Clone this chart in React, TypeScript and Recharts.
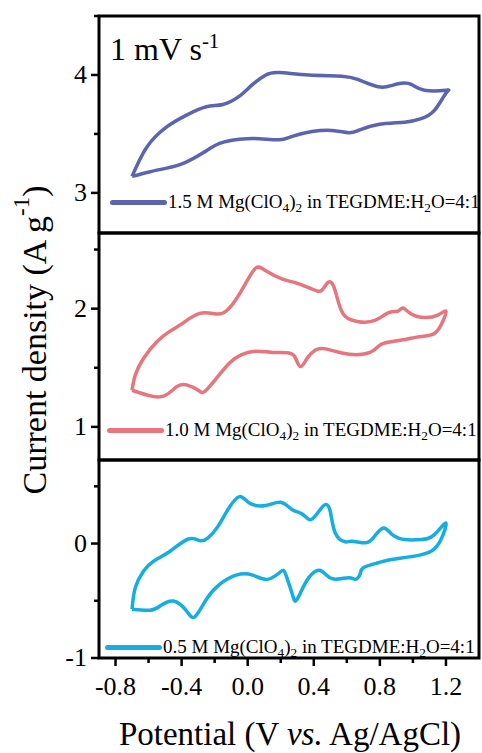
import { LineChart, Line, XAxis, YAxis, ReferenceArea, Legend, Label } from "recharts";

// 1.5 M loop (potential V, current A/g)
const pot15 = [
	-0.7, -0.61, -0.49, -0.37, -0.25, -0.15, -0.05, 0.03, 0.11, 0.19, 0.37, 0.57, 0.67, 0.79, 0.87, 0.93, 0.99, 1.07, 1.2,
	1.2, 1.13, 1.05, 0.95, 0.79, 0.67, 0.61, 0.51, 0.39, 0.27, 0.19, 0.07, -0.05, -0.17, -0.27, -0.39, -0.49, -0.59, -0.7,
];
const cur15 = [
	3.14, 3.39, 3.56, 3.66, 3.73, 3.75, 3.82, 3.92, 4.0, 4.02, 4.0, 3.99, 3.96, 3.9, 3.91, 3.93, 3.92, 3.87, 3.87,
	3.845, 3.7, 3.63, 3.6, 3.58, 3.53, 3.51, 3.53, 3.52, 3.48, 3.45, 3.46, 3.455, 3.42, 3.34, 3.25, 3.21, 3.18, 3.14,
];

// 1.0 M loop
const pot10 = [
	-0.7, -0.68, -0.63, -0.55, -0.47, -0.39, -0.29, -0.19, -0.13, -0.07, -0.01, 0.05, 0.11, 0.21, 0.31, 0.42, 0.46, 0.49,
	0.52, 0.55, 0.59, 0.67, 0.77, 0.85, 0.91, 0.94, 0.99, 1.07, 1.15, 1.2,
	1.18, 1.13, 1.05, 0.95, 0.83, 0.79, 0.74, 0.66, 0.57, 0.47, 0.41, 0.36, 0.32, 0.29, 0.25, 0.15, 0.05, -0.04, -0.11,
	-0.19, -0.26, -0.3, -0.37, -0.43, -0.51, -0.61, -0.7,
];
const cur10 = [
	1.31, 1.44, 1.58, 1.72, 1.81, 1.88, 1.96, 1.955, 1.98, 2.08, 2.22, 2.345, 2.32, 2.25, 2.21, 2.15, 2.175, 2.225,
	2.19, 2.05, 1.935, 1.89, 1.9, 1.965, 1.98, 2.005, 1.955, 1.925, 1.945, 1.98,
	1.89, 1.79, 1.765, 1.74, 1.71, 1.68, 1.63, 1.61, 1.625, 1.66, 1.65, 1.58, 1.51, 1.58, 1.625, 1.63, 1.64, 1.61, 1.54,
	1.41, 1.3, 1.31, 1.355, 1.34, 1.26, 1.27, 1.31,
];

// 0.5 M loop
const pot05 = [
	-0.7, -0.68, -0.63, -0.57, -0.47, -0.36, -0.29, -0.24, -0.18, -0.12, -0.05, 0.01, 0.11, 0.2, 0.27, 0.33, 0.38, 0.43,
	0.47, 0.5, 0.53, 0.59, 0.63, 0.71, 0.76, 0.82, 0.87, 0.95, 1.05, 1.13, 1.2,
	1.17, 1.11, 1.01, 0.87, 0.79, 0.7, 0.68, 0.65, 0.61, 0.51, 0.44, 0.37, 0.32, 0.29, 0.27, 0.23, 0.2, 0.12, 0.03, -0.07,
	-0.17, -0.25, -0.32, -0.37, -0.45, -0.53, -0.59, -0.7,
];
const cur05 = [
	-0.574, -0.385, -0.24, -0.154, -0.067, 0.04, 0.026, 0.05, 0.15, 0.296, 0.41, 0.354, 0.333, 0.36, 0.296, 0.258, 0.209,
	0.28, 0.34, 0.28, 0.093, 0.015, 0.02, 0.006, 0.05, 0.136, 0.084, 0.035, 0.035, 0.078, 0.18,
	0.035, -0.067, -0.11, -0.14, -0.168, -0.211, -0.27, -0.313, -0.298, -0.307, -0.235, -0.298, -0.429, -0.502, -0.443,
	-0.27, -0.246, -0.313, -0.276, -0.276, -0.357, -0.487, -0.64, -0.589, -0.502, -0.545, -0.583, -0.574,
];

const xTicks = [-0.8, -0.6, -0.4, -0.2, 0, 0.2, 0.4, 0.6, 0.8, 1.0, 1.2];
const yTicks15 = [3, 3.5, 4, 4.5];
const yTicks10 = [1, 1.5, 2, 2.5];
const yTicks05 = [-1, -0.5, 0, 0.5];

const W = 482;
const H = 753;
const FONT = '"Liberation Serif", "Times New Roman", serif';

const toRows = (pot: number[], cur: number[]) => pot.map((p, i) => ({ x: p, y: cur[i] }));

function YTick(props: any) {
	const { x, y, payload } = props;
	const v = payload.value;
	const major = Number.isInteger(v);
	const ax = x + 12;
	return (
		<g>
			<line x1={ax - (major ? 8 : 5)} x2={ax} y1={y} y2={y} stroke="#000" strokeWidth={2.5} />
			{major && (
				<text x={x} y={y} dy={8} textAnchor="end" fontSize={26} fontFamily={FONT} fill="#000">
					{v}
				</text>
			)}
		</g>
	);
}

function XTick(props: any) {
	const { x, y, payload } = props;
	const v = payload.value;
	const major = Math.abs(Math.round(v * 10)) % 4 === 0;
	const ay = y - 12;
	return (
		<g>
			<line x1={x} x2={x} y1={ay} y2={ay + (major ? 8 : 5)} stroke="#000" strokeWidth={2.5} />
			{major && (
				<text x={x} y={ay + 37} textAnchor="middle" fontSize={26} fontFamily={FONT} fill="#000">
					{v.toFixed(1)}
				</text>
			)}
		</g>
	);
}

const subStyle = { fontSize: "0.7em", verticalAlign: "-0.3em", lineHeight: 0 };

function LegendRow({ conc, color }: { conc: string; color: string }) {
	return (
		<div
			style={{
				display: "flex",
				alignItems: "center",
				fontFamily: FONT,
				fontSize: 19,
				color: "#000",
				whiteSpace: "nowrap",
				lineHeight: "22px",
			}}
		>
			<span style={{ display: "inline-block", width: 57, height: 5, background: color, borderRadius: 2.5, marginRight: 1 }} />
			<span>
				{conc} M Mg(ClO<sub style={subStyle}>4</sub>)<sub style={subStyle}>2</sub> in TEGDME:H
				<sub style={subStyle}>2</sub>O=4:1
			</span>
		</div>
	);
}

type Panel = {
	rows: { x: number; y: number }[];
	domain: [number, number];
	ticks: number[];
	color: string;
	conc: string;
	top: number;
	bottom: number;
	legendX: number;
	legendY: number;
};

const panels: Panel[] = [
	{ rows: toRows(pot15, cur15), domain: [2.66, 4.5], ticks: yTicks15, color: "#5b64b0", conc: "1.5", top: 16, bottom: 520, legendX: 110, legendY: 191 },
	{ rows: toRows(pot10, cur10), domain: [0.72, 2.64], ticks: yTicks10, color: "#e8747e", conc: "1.0", top: 233, bottom: 293, legendX: 107, legendY: 419 },
	{ rows: toRows(pot05, cur05), domain: [-1, 0.73], ticks: yTicks05, color: "#14aee3", conc: "0.5", top: 460, bottom: 0, legendX: 105, legendY: 636 },
];

export default function App() {
	return (
		<div style={{ position: "absolute", left: 0, top: 0, width: W, height: H, background: "#fff" }}>
			{panels.map((p, i) => {
				const last = i === panels.length - 1;
				return (
					<div key={p.conc} style={{ position: "absolute", left: 0, top: 0 }}>
						<LineChart width={W} height={H} data={p.rows} margin={{ top: p.top, right: 3, bottom: p.bottom, left: 0 }}>
							<XAxis
								dataKey="x"
								type="number"
								domain={[-0.9, 1.4]}
								ticks={xTicks}
								hide={!last}
								height={95}
								axisLine={false}
								tickLine={false}
								tickSize={8}
								tickMargin={4}
								tick={<XTick />}
								interval={0}
							>
								{last && (
									<Label
										content={() => (
											<text x={290} y={745} textAnchor="middle" fontSize={33} fontFamily={FONT} fill="#000">
												Potential (V <tspan fontStyle="italic">vs.</tspan> Ag/AgCl)
											</text>
										)}
									/>
								)}
							</XAxis>
							<YAxis
								type="number"
								domain={p.domain}
								ticks={p.ticks}
								width={99}
								axisLine={false}
								tickLine={false}
								tickSize={8}
								tickMargin={4}
								tick={<YTick />}
								interval={0}
							>
								{i === 1 && (
									<Label
										content={() => (
											<text
												x={34}
												y={340}
												transform="rotate(-90 34 340)"
												textAnchor="middle"
												dominantBaseline="central"
												fontSize={34}
												fontFamily={FONT}
												fill="#000"
											>
												Current density (A g
												<tspan dy={-13} fontSize={23}>
													-1
												</tspan>
												<tspan dy={13}>)</tspan>
											</text>
										)}
									/>
								)}
							</YAxis>
							<ReferenceArea
								x1={-0.9}
								x2={1.4}
								y1={p.domain[0]}
								y2={p.domain[1]}
								fill="none"
								stroke="#000"
								strokeWidth={3}
								ifOverflow="visible"
							>
								{i === 0 && (
									<Label
										content={(lp: any) => (
											<text x={lp.viewBox.x + 11} y={lp.viewBox.y + 44} fontSize={32} fontFamily={FONT} fill="#000">
												1 mV s
												<tspan dy={-12} fontSize={21}>
													-1
												</tspan>
											</text>
										)}
									/>
								)}
							</ReferenceArea>
							<Line
								dataKey="y"
								type="natural"
								stroke={p.color}
								strokeWidth={3.5}
								dot={false}
								isAnimationActive={false}
								strokeLinejoin="round"
							/>
							<Legend
								layout="vertical"
								align="center"
								verticalAlign="middle"
								wrapperStyle={{ left: p.legendX, top: p.legendY }}
								content={() => <LegendRow conc={p.conc} color={p.color} />}
							/>
						</LineChart>
					</div>
				);
			})}
		</div>
	);
}
